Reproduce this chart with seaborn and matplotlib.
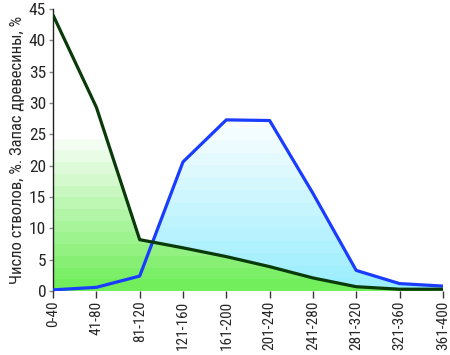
import numpy as np
import pandas as pd
import matplotlib
matplotlib.use("Agg")
import matplotlib.pyplot as plt
import seaborn as sns
from matplotlib.colors import LinearSegmentedColormap

categories = ["0-40", "41-80", "81-120", "121-160", "161-200", "201-240",
              "241-280", "281-320", "321-360", "361-400"]
stems = [44.0, 29.3, 8.2, 6.9, 5.5, 3.9, 2.1, 0.7, 0.3, 0.3]
volume = [0.2, 0.6, 2.4, 20.6, 27.3, 27.2, 15.6, 3.3, 1.2, 0.8]
yticks = [0, 5, 10, 15, 20, 25, 30, 35, 40, 45]

sns.set_theme(style="white")
plt.rcParams['font.family'] = ['Roboto Condensed', 'DejaVu Sans']

fig = plt.figure(figsize=(4.5, 3.55), dpi=100)
ax = fig.add_axes([0.118, 0.180, 0.866, 0.795])

df = pd.DataFrame({"cat": categories, "stems": stems, "volume": volume})
xs = np.arange(len(categories))

def grad_fill(y, c_bottom, c_top, top_val, z):
    poly = ax.fill_between(xs, 0, y, color="none", lw=0, zorder=z)
    n = 14
    levels = np.linspace(0, 1, n)
    cmap = LinearSegmentedColormap.from_list("g", [c_bottom, c_top])
    img = np.repeat(levels[::-1][:, None], 2, axis=1)
    im = ax.imshow(img, cmap=cmap, aspect="auto", interpolation="nearest",
                   extent=[0, len(xs) - 1, 0, top_val], zorder=z)
    path = poly.get_paths()[0]
    im.set_clip_path(path, transform=ax.transData)
    return im

grad_fill(np.array(volume), "#9aeefe", "#fbfeff", 28, 1)
grad_fill(np.array(stems), "#72ee5c", "#ffffff", 26, 2)

sns.lineplot(data=df, x="cat", y="volume", ax=ax, color="#1a3cff", lw=2.3,
             sort=False, zorder=4)
sns.lineplot(data=df, x="cat", y="stems", ax=ax, color="#0a3a0a", lw=2.3,
             sort=False, zorder=5)

ax.set_xlim(0, len(xs) - 1)
ax.set_ylim(0, 45)
ax.set_yticks(yticks)
ax.set_xticks(xs)
ax.set_xticklabels(categories, rotation=90, fontsize=11)
ax.set_yticklabels([str(v) for v in yticks], fontsize=12.5)
ax.set_xlabel("")
ax.set_ylabel("Число стволов, %. Запас древесины, %", fontsize=12, labelpad=3)
for s in ["top", "right"]:
    ax.spines[s].set_visible(False)
ax.spines["left"].set_color("#222222")
ax.spines["left"].set_linewidth(1)
ax.spines["bottom"].set_visible(False)
ax.tick_params(axis="x", length=5, width=1, color="#333333", pad=2, bottom=True)
ax.tick_params(axis="y", length=3, width=1, color="#888888", pad=2, left=True)
ax.grid(False)

fig.savefig("out.png", dpi=100)
